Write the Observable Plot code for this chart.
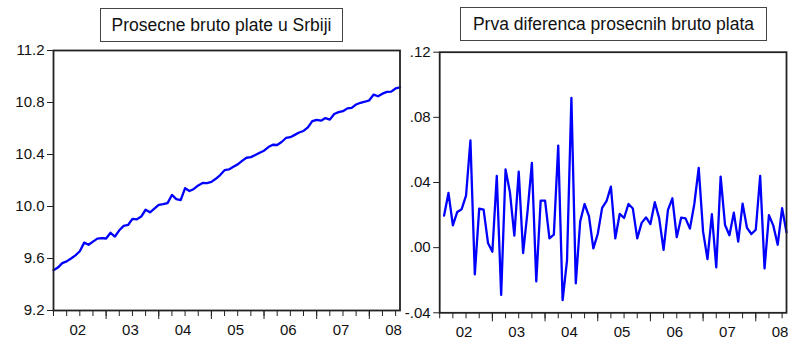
<!DOCTYPE html>
<html>
<head>
<meta charset="utf-8">
<script src="https://cdn.jsdelivr.net/npm/d3@7"></script>
<script src="https://cdn.jsdelivr.net/npm/@observablehq/plot@0.6"></script>
<style>
  html, body { margin: 0; padding: 0; background: #fff; }
  #wrap { position: relative; width: 788px; height: 339px; overflow: hidden; font-family: "Liberation Sans", Arial, sans-serif; }
  .panel { position: absolute; top: 0; }
  .title { position: absolute; border: 1px solid #444; background: #fff; box-sizing: border-box;
           display: flex; align-items: center; justify-content: center; font-size: 17.5px; color: #111; white-space: nowrap; }
</style>
</head>
<body>
<div id="wrap">
  <div class="panel" id="left" style="left:0px"></div>
  <div class="panel" id="right" style="left:400px"></div>
  <div class="title" id="t1" style="left:100px; top:8px; width:243px; height:34px;"></div>
  <div class="title" id="t2" style="left:460px; top:7px; width:307px; height:34px;"></div>
</div>
<script>
// Monthly observations, 2002M01 .. 2008M08 (index 0 = 2002M01)
const levelTitle = "Prosecne bruto plate u Srbiji";
const diffTitle = "Prva diferenca prosecnih bruto plata";

const levels = [
  9.510, 9.530, 9.564, 9.578, 9.600, 9.624, 9.656, 9.722, 9.706, 9.730,
  9.753, 9.756, 9.754, 9.798, 9.769, 9.817, 9.851, 9.858, 9.905, 9.901,
  9.923, 9.975, 9.955, 9.984, 10.012, 10.018, 10.026, 10.089, 10.057, 10.049,
  10.141, 10.119, 10.135, 10.162, 10.181, 10.180, 10.189, 10.213, 10.242, 10.279,
  10.285, 10.306, 10.324, 10.351, 10.375, 10.380, 10.396, 10.414, 10.429, 10.457,
  10.475, 10.473, 10.496, 10.527, 10.533, 10.551, 10.569, 10.581, 10.608, 10.657,
  10.667, 10.660, 10.680, 10.668, 10.712, 10.726, 10.733, 10.755, 10.758, 10.785,
  10.798, 10.806, 10.817, 10.861, 10.848, 10.868, 10.882, 10.884, 10.908, 10.917
];

// first differences, 2002M02 .. 2008M08
const diffs = [
  0.0197, 0.0336, 0.0137, 0.0219, 0.0236, 0.0320, 0.0658, -0.0164, 0.0240, 0.0234,
  0.0029, -0.0025, 0.0440, -0.0290, 0.0480, 0.0340, 0.0074, 0.0467, -0.0033, 0.0220,
  0.0520, -0.0207, 0.0289, 0.0289, 0.0057, 0.0080, 0.0627, -0.0322, -0.0080, 0.0920,
  -0.0219, 0.0160, 0.0268, 0.0193, -0.0004, 0.0084, 0.0244, 0.0285, 0.0375, 0.0057,
  0.0207, 0.0182, 0.0268, 0.0240, 0.0057, 0.0152, 0.0186, 0.0145, 0.0279, 0.0180,
  -0.0014, 0.0232, 0.0303, 0.0064, 0.0184, 0.0180, 0.0117, 0.0268, 0.0490, 0.0098,
  -0.0070, 0.0205, -0.0121, 0.0436, 0.0139, 0.0076, 0.0215, 0.0037, 0.0270, 0.0121,
  0.0084, 0.0110, 0.0440, -0.0127, 0.0200, 0.0135, 0.0018, 0.0242, 0.0094
];

const yearLabels = ["02", "03", "04", "05", "06", "07", "08"];
const levelTicks = [9.2, 9.6, 10.0, 10.4, 10.8, 11.2];
const levelTickLabels = ["9.2", "9.6", "10.0", "10.4", "10.8", "11.2"];
const diffTicks = [-0.04, 0.0, 0.04, 0.08, 0.12];
const diffTickLabels = ["-.04", ".00", ".04", ".08", ".12"];

// derived tables
const nObs = levels.length;              // 80 months
const lastIndex = nObs - 1;
const levelData = levels.map((v, i) => ({t: i, v}));
const diffData = diffs.map((v, i) => ({t: i + 1, v}));
const quarterTicks = d3.range(0, lastIndex + 1, 3);
const yearTicks = d3.range(12, lastIndex + 1, 12);
const yearLabelPos = yearLabels.map((_, i) => 6 + 12 * i);

const BLUE = "#0000ff";
const FRAME = "#222";

function panel({data, yDomain, yTicks, yTickLabels, width, height, margins}) {
  return Plot.plot({
    width, height,
    ...margins,
    style: {background: "transparent", overflow: "visible", fontFamily: "'Liberation Sans', Arial, sans-serif", color: "#111"},
    x: {type: "linear", domain: [0, lastIndex]},
    y: {type: "linear", domain: yDomain},
    marks: [
      Plot.axisY({ticks: yTicks, tickFormat: d => yTickLabels[yTicks.findIndex(t => Math.abs(t - d) < 1e-9)],
                  tickSize: 6, tickPadding: 3, fontSize: 15, label: null, stroke: FRAME}),
      Plot.axisX({ticks: quarterTicks, tickSize: 6, fill: "none", label: null, stroke: FRAME}),
      Plot.axisX({ticks: yearTicks, tickSize: 9, fill: "none", label: null, stroke: FRAME}),
      Plot.axisX({ticks: yearLabelPos, tickSize: 0, tickPadding: 14, fontSize: 15, label: null, dx: -2,
                  tickFormat: d => yearLabels[yearLabelPos.indexOf(d)]}),
      Plot.line(data, {x: "t", y: "v", stroke: BLUE, strokeWidth: 2.3}),
      Plot.frame({stroke: FRAME, strokeWidth: 1.8})
    ]
  });
}

document.getElementById("left").append(panel({
  data: levelData, yDomain: [9.2, 11.2], yTicks: levelTicks, yTickLabels: levelTickLabels,
  width: 410, height: 339,
  margins: {marginLeft: 53, marginRight: 10.5, marginTop: 50, marginBottom: 29}
}));
document.getElementById("right").append(panel({
  data: diffData, yDomain: [-0.04, 0.12], yTicks: diffTicks, yTickLabels: diffTickLabels,
  width: 388, height: 339,
  margins: {marginLeft: 39.2, marginRight: 2, marginTop: 51.7, marginBottom: 26.7}
}));
document.getElementById("t1").textContent = levelTitle;
document.getElementById("t2").textContent = diffTitle;
</script>
</body>
</html>
